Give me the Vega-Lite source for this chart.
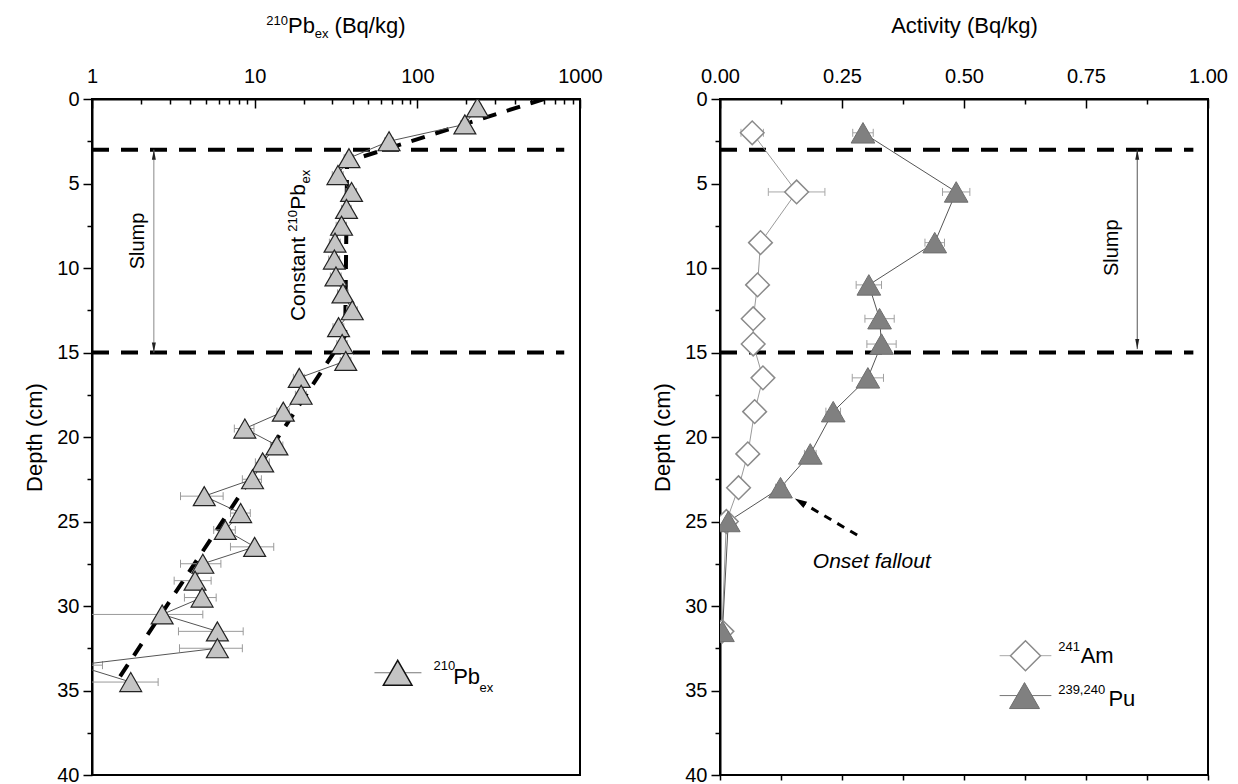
{
  "$schema": "https://vega.github.io/schema/vega-lite/v6.json",
  "padding": {"left": 22, "top": 13, "right": 0, "bottom": 0},
  "background": "white",
  "config": {
    "font": "Liberation Sans",
    "view": {"stroke": "black", "strokeWidth": 2},
    "axis": {"grid": false, "domainColor": "black", "domainWidth": 2, "tickColor": "black", "tickWidth": 1.5, "labelFontSize": 20, "titleFontSize": 22, "titleFontWeight": "normal", "labelColor": "black", "titleColor": "black", "labelFlush": false, "labelOverlap": false}
  },
  "datasets": {
    "pb": [
      {"d": 0.5, "x": 234, "lo": 222, "hi": 246},
      {"d": 1.5, "x": 196, "lo": 184, "hi": 208},
      {"d": 2.5, "x": 67, "lo": 63, "hi": 71},
      {"d": 3.5, "x": 38, "lo": 35.5, "hi": 40.5},
      {"d": 4.5, "x": 32.5, "lo": 30, "hi": 35},
      {"d": 5.5, "x": 39.4, "lo": 36.5, "hi": 42.3},
      {"d": 6.5, "x": 36.7, "lo": 34.2, "hi": 39.2},
      {"d": 7.5, "x": 34.2, "lo": 31.7, "hi": 36.7},
      {"d": 8.5, "x": 31.2, "lo": 28.8, "hi": 33.6},
      {"d": 9.5, "x": 30.9, "lo": 28.5, "hi": 33.3},
      {"d": 10.5, "x": 31.6, "lo": 29.2, "hi": 34},
      {"d": 11.5, "x": 34.9, "lo": 32.3, "hi": 37.5},
      {"d": 12.5, "x": 39.8, "lo": 36.8, "hi": 42.8},
      {"d": 13.5, "x": 32.8, "lo": 30.3, "hi": 35.3},
      {"d": 14.5, "x": 34.5, "lo": 32, "hi": 37},
      {"d": 15.5, "x": 36.3, "lo": 33.6, "hi": 39},
      {"d": 16.5, "x": 18.8, "lo": 17.3, "hi": 20.3},
      {"d": 17.5, "x": 19.3, "lo": 17.8, "hi": 20.8},
      {"d": 18.5, "x": 15.0, "lo": 13.7, "hi": 16.3},
      {"d": 19.5, "x": 8.7, "lo": 7.5, "hi": 9.9},
      {"d": 20.5, "x": 13.7, "lo": 12.5, "hi": 14.9},
      {"d": 21.5, "x": 11.2, "lo": 10.1, "hi": 12.3},
      {"d": 22.5, "x": 9.7, "lo": 8.4, "hi": 11},
      {"d": 23.5, "x": 4.9, "lo": 3.5, "hi": 6.4},
      {"d": 24.5, "x": 8.2, "lo": 7.1, "hi": 9.4},
      {"d": 25.5, "x": 6.6, "lo": 5.6, "hi": 7.6},
      {"d": 26.5, "x": 10, "lo": 7.1, "hi": 13.1},
      {"d": 27.5, "x": 4.8, "lo": 3.5, "hi": 6.2},
      {"d": 28.5, "x": 4.3, "lo": 3.2, "hi": 5.4},
      {"d": 29.5, "x": 4.75, "lo": 3.7, "hi": 5.8},
      {"d": 30.5, "x": 2.7, "lo": 0.6, "hi": 4.8},
      {"d": 31.5, "x": 5.9, "lo": 3.4, "hi": 8.5},
      {"d": 32.5, "x": 5.9, "lo": 3.45, "hi": 8.4},
      {"d": 33.5, "x": 0.8, "lo": 0.45, "hi": 1.16},
      {"d": 34.5, "x": 1.73, "lo": 0.9, "hi": 2.55}
    ],
    "fit": [
      {"d": 0, "x": 600},
      {"d": 3.7, "x": 37},
      {"d": 14, "x": 36},
      {"d": 34.6, "x": 1.39}
    ],
    "am": [
      {"d": 2, "x": 0.066, "lo": 0.043, "hi": 0.089},
      {"d": 5.5, "x": 0.157, "lo": 0.099, "hi": 0.215},
      {"d": 8.5, "x": 0.083, "lo": 0.073, "hi": 0.093},
      {"d": 11, "x": 0.077, "lo": 0.067, "hi": 0.087},
      {"d": 13, "x": 0.068, "lo": 0.058, "hi": 0.078},
      {"d": 14.5, "x": 0.068, "lo": 0.058, "hi": 0.078},
      {"d": 16.5, "x": 0.088, "lo": 0.078, "hi": 0.098},
      {"d": 18.5, "x": 0.071, "lo": 0.061, "hi": 0.081},
      {"d": 21, "x": 0.057, "lo": 0.047, "hi": 0.067},
      {"d": 23, "x": 0.038, "lo": 0.028, "hi": 0.048},
      {"d": 25, "x": 0.013, "lo": 0.008, "hi": 0.018},
      {"d": 31.5, "x": 0.004, "lo": 0.001, "hi": 0.007}
    ],
    "pu": [
      {"d": 2, "x": 0.293, "lo": 0.272, "hi": 0.314},
      {"d": 5.5, "x": 0.484, "lo": 0.456, "hi": 0.512},
      {"d": 8.5, "x": 0.44, "lo": 0.42, "hi": 0.46},
      {"d": 11, "x": 0.305, "lo": 0.279, "hi": 0.331},
      {"d": 13, "x": 0.327, "lo": 0.297, "hi": 0.357},
      {"d": 14.5, "x": 0.331, "lo": 0.301, "hi": 0.361},
      {"d": 16.5, "x": 0.303, "lo": 0.271, "hi": 0.335},
      {"d": 18.5, "x": 0.232, "lo": 0.217, "hi": 0.247},
      {"d": 21, "x": 0.185, "lo": 0.173, "hi": 0.197},
      {"d": 23, "x": 0.124, "lo": 0.114, "hi": 0.134},
      {"d": 25, "x": 0.017, "lo": 0.012, "hi": 0.022},
      {"d": 31.5, "x": 0.005, "lo": 0.0, "hi": 0.01}
    ]
  },
  "spacing": 46,
  "hconcat": [
    {
      "width": 488,
      "height": 676,
      "layer": [
        {
          "data": {"values": [{"d": 3, "x": 1, "x2": 800}, {"d": 15, "x": 1, "x2": 800}]},
          "mark": {"type": "rule", "color": "black", "strokeWidth": 4, "strokeDash": [17, 12]},
          "encoding": {
            "y": {"field": "d", "type": "quantitative", "scale": {"domain": [0, 40], "reverse": true, "nice": false, "zero": false},
              "axis": {"orient": "left", "title": "Depth (cm)", "values": [0, 2.5, 5, 7.5, 10, 12.5, 15, 17.5, 20, 22.5, 25, 27.5, 30, 32.5, 35, 37.5, 40],
                "labelExpr": "datum.value % 5 === 0 ? datum.label : ''",
                "tickSize": {"condition": {"test": "datum.value % 5 === 0", "value": 9}, "value": 5},
                "labelPadding": 4, "titlePadding": 10}},
            "x": {"field": "x", "type": "quantitative", "scale": {"type": "log", "domain": [1, 1000], "nice": false},
              "axis": {"orient": "top", "title": null, "format": "d",
                "values": [1, 2, 3, 4, 5, 6, 7, 8, 9, 10, 20, 30, 40, 50, 60, 70, 80, 90, 100, 200, 300, 400, 500, 600, 700, 800, 900, 1000],
                "labelExpr": "(datum.value === 1 || datum.value === 10 || datum.value === 100 || datum.value === 1000) ? datum.label : ''",
                "tickSize": {"condition": {"test": "datum.value === 1 || datum.value === 10 || datum.value === 100 || datum.value === 1000", "value": -9}, "value": -5},
                "labelPadding": 22}},
            "x2": {"field": "x2"}
          }
        },
        {
          "data": {"name": "fit"},
          "mark": {"type": "line", "color": "black", "strokeWidth": 4, "strokeDash": [14, 11], "clip": true},
          "encoding": {
            "x": {"field": "x", "type": "quantitative"},
            "y": {"field": "d", "type": "quantitative"},
            "order": {"field": "d", "type": "quantitative"}
          }
        },
        {
          "data": {"name": "pb"},
          "mark": {"type": "rule", "color": "#9a9a9a", "strokeWidth": 1, "clip": true},
          "encoding": {
            "x": {"field": "lo", "type": "quantitative"},
            "x2": {"field": "hi"},
            "y": {"field": "d", "type": "quantitative"}
          }
        },
        {
          "data": {"name": "pb"},
          "transform": [{"fold": ["lo", "hi"], "as": ["k", "cx"]}],
          "mark": {"type": "point", "shape": "M0,-1L0,1", "size": 64, "filled": false, "stroke": "#9a9a9a", "strokeWidth": 1, "opacity": 1, "clip": true},
          "encoding": {
            "x": {"field": "cx", "type": "quantitative"},
            "y": {"field": "d", "type": "quantitative"}
          }
        },
        {
          "data": {"name": "pb"},
          "mark": {"type": "line", "color": "#555555", "strokeWidth": 1, "clip": true},
          "encoding": {
            "x": {"field": "x", "type": "quantitative"},
            "y": {"field": "d", "type": "quantitative"},
            "order": {"field": "d", "type": "quantitative"}
          }
        },
        {
          "data": {"name": "pb"},
          "mark": {"type": "point", "shape": "triangle-up", "size": 480, "filled": true, "fill": "#c4c4c4", "stroke": "#222222", "strokeWidth": 1.2, "opacity": 1, "clip": true},
          "encoding": {
            "x": {"field": "x", "type": "quantitative"},
            "y": {"field": "d", "type": "quantitative"}
          }
        },
        {
          "data": {"values": [{"x": 2.4, "d": 3, "d2": 15}]},
          "mark": {"type": "rule", "color": "#888888", "strokeWidth": 1},
          "encoding": {
            "x": {"field": "x", "type": "quantitative"},
            "y": {"field": "d", "type": "quantitative"},
            "y2": {"field": "d2"}
          }
        },
        {
          "data": {"values": [{"x": 2.4, "d": 3.3, "a": 0}, {"x": 2.4, "d": 14.7, "a": 180}]},
          "mark": {"type": "point", "shape": "M0,-1L-0.4,1L0.4,1Z", "size": 100, "filled": true, "color": "#222222", "opacity": 1},
          "encoding": {
            "x": {"field": "x", "type": "quantitative"},
            "y": {"field": "d", "type": "quantitative"},
            "angle": {"field": "a", "type": "quantitative", "scale": null}
          }
        },
        {
          "data": {"values": [{"x": 1.91, "d": 8.4, "t": "Slump"}]},
          "mark": {"type": "text", "angle": 270, "fontSize": 20, "align": "center", "baseline": "middle", "color": "black"},
          "encoding": {
            "x": {"field": "x", "type": "quantitative"},
            "y": {"field": "d", "type": "quantitative"},
            "text": {"field": "t"}
          }
        },
        {
          "data": {"values": [{"x": 20.3, "d": 13.14, "t": "Constant"}, {"x": 20.3, "d": 6.55, "t": "Pb"}]},
          "mark": {"type": "text", "angle": 270, "fontSize": 21, "align": "left", "baseline": "alphabetic", "color": "black"},
          "encoding": {
            "x": {"field": "x", "type": "quantitative"},
            "y": {"field": "d", "type": "quantitative"},
            "text": {"field": "t"}
          }
        },
        {
          "data": {"values": [{"x": 18.2, "d": 7.85, "t": "210"}, {"x": 21.8, "d": 5.0, "t": "ex"}]},
          "mark": {"type": "text", "angle": 270, "fontSize": 13, "align": "left", "baseline": "alphabetic", "color": "black"},
          "encoding": {
            "x": {"field": "x", "type": "quantitative"},
            "y": {"field": "d", "type": "quantitative"},
            "text": {"field": "t"}
          }
        },
        {
          "data": {"values": [{"x": 16.02, "d": -3.9, "t": "Pb"}, {"x": 31.0, "d": -3.9, "t": "(Bq/kg)"}]},
          "mark": {"type": "text", "fontSize": 22, "align": "left", "baseline": "alphabetic", "color": "black"},
          "encoding": {
            "x": {"field": "x", "type": "quantitative"},
            "y": {"field": "d", "type": "quantitative"},
            "text": {"field": "t"}
          }
        },
        {
          "data": {"values": [{"x": 11.79, "d": -4.37, "t": "210"}, {"x": 23.44, "d": -3.6, "t": "ex"}]},
          "mark": {"type": "text", "fontSize": 13, "align": "left", "baseline": "alphabetic", "color": "black"},
          "encoding": {
            "x": {"field": "x", "type": "quantitative"},
            "y": {"field": "d", "type": "quantitative"},
            "text": {"field": "t"}
          }
        },
        {
          "data": {"values": [{"x": 54.5, "x2": 106, "d": 33.95}]},
          "mark": {"type": "rule", "color": "#777777", "strokeWidth": 1},
          "encoding": {
            "x": {"field": "x", "type": "quantitative"},
            "x2": {"field": "x2"},
            "y": {"field": "d", "type": "quantitative"}
          }
        },
        {
          "data": {"values": [{"x": 75.7, "d": 33.95}]},
          "mark": {"type": "point", "shape": "triangle-up", "size": 820, "filled": true, "fill": "#c4c4c4", "stroke": "#111111", "strokeWidth": 1.5, "opacity": 1},
          "encoding": {
            "x": {"field": "x", "type": "quantitative"},
            "y": {"field": "d", "type": "quantitative"}
          }
        },
        {
          "data": {"values": [{"x": 125.6, "d": 33.79, "t": "210"}, {"x": 241, "d": 35.07, "t": "ex"}]},
          "mark": {"type": "text", "fontSize": 13, "align": "left", "baseline": "alphabetic", "color": "black"},
          "encoding": {
            "x": {"field": "x", "type": "quantitative"},
            "y": {"field": "d", "type": "quantitative"},
            "text": {"field": "t"}
          }
        },
        {
          "data": {"values": [{"x": 166, "d": 34.62, "t": "Pb"}]},
          "mark": {"type": "text", "fontSize": 22, "align": "left", "baseline": "alphabetic", "color": "black"},
          "encoding": {
            "x": {"field": "x", "type": "quantitative"},
            "y": {"field": "d", "type": "quantitative"},
            "text": {"field": "t"}
          }
        }
      ]
    },
    {
      "width": 488,
      "height": 676,
      "resolve": {"axis": {"x": "independent"}},
      "layer": [
        {
          "layer": [
            {
              "data": {"values": [{"d": 3, "x": 0, "x2": 0.97}, {"d": 15, "x": 0, "x2": 0.97}]},
              "mark": {"type": "rule", "color": "black", "strokeWidth": 4, "strokeDash": [17, 12]},
              "encoding": {
                "y": {"field": "d", "type": "quantitative", "scale": {"domain": [0, 40], "reverse": true, "nice": false, "zero": false},
                  "axis": {"orient": "left", "title": "Depth (cm)", "values": [0, 2.5, 5, 7.5, 10, 12.5, 15, 17.5, 20, 22.5, 25, 27.5, 30, 32.5, 35, 37.5, 40],
                    "labelExpr": "datum.value % 5 === 0 ? datum.label : ''",
                    "tickSize": {"condition": {"test": "datum.value % 5 === 0", "value": 9}, "value": 5},
                    "labelPadding": 4, "titlePadding": 10}},
                "x": {"field": "x", "type": "quantitative", "scale": {"domain": [0, 1], "nice": false, "zero": false},
                  "axis": {"orient": "top", "title": "Activity (Bq/kg)", "format": ".2f",
                    "values": [0, 0.125, 0.25, 0.375, 0.5, 0.625, 0.75, 0.875, 1],
                    "labelExpr": "round(datum.value * 8) % 2 === 0 ? datum.label : ''",
                    "tickSize": {"condition": {"test": "round(datum.value * 8) % 2 === 0", "value": -9}, "value": -5},
                    "labelPadding": 22, "titlePadding": 25}},
                "x2": {"field": "x2"}
              }
            },
            {
              "data": {"name": "am"},
              "mark": {"type": "rule", "color": "#a8a8a8", "strokeWidth": 1, "clip": true},
              "encoding": {
                "x": {"field": "lo", "type": "quantitative"},
                "x2": {"field": "hi"},
                "y": {"field": "d", "type": "quantitative"}
              }
            },
            {
              "data": {"name": "am"},
              "transform": [{"fold": ["lo", "hi"], "as": ["k", "cx"]}],
              "mark": {"type": "point", "shape": "M0,-1L0,1", "size": 64, "filled": false, "stroke": "#a8a8a8", "strokeWidth": 1, "opacity": 1, "clip": true},
              "encoding": {
                "x": {"field": "cx", "type": "quantitative"},
                "y": {"field": "d", "type": "quantitative"}
              }
            },
            {
              "data": {"name": "pu"},
              "mark": {"type": "rule", "color": "#a0a0a0", "strokeWidth": 1, "clip": true},
              "encoding": {
                "x": {"field": "lo", "type": "quantitative"},
                "x2": {"field": "hi"},
                "y": {"field": "d", "type": "quantitative"}
              }
            },
            {
              "data": {"name": "pu"},
              "transform": [{"fold": ["lo", "hi"], "as": ["k", "cx"]}],
              "mark": {"type": "point", "shape": "M0,-1L0,1", "size": 64, "filled": false, "stroke": "#a0a0a0", "strokeWidth": 1, "opacity": 1, "clip": true},
              "encoding": {
                "x": {"field": "cx", "type": "quantitative"},
                "y": {"field": "d", "type": "quantitative"}
              }
            },
            {
              "data": {"name": "am"},
              "mark": {"type": "line", "color": "#9a9a9a", "strokeWidth": 1, "clip": true},
              "encoding": {
                "x": {"field": "x", "type": "quantitative"},
                "y": {"field": "d", "type": "quantitative"},
                "order": {"field": "d", "type": "quantitative"}
              }
            },
            {
              "data": {"name": "pu"},
              "mark": {"type": "line", "color": "#555555", "strokeWidth": 1, "clip": true},
              "encoding": {
                "x": {"field": "x", "type": "quantitative"},
                "y": {"field": "d", "type": "quantitative"},
                "order": {"field": "d", "type": "quantitative"}
              }
            },
            {
              "data": {"name": "am"},
              "mark": {"type": "point", "shape": "diamond", "size": 560, "filled": true, "fill": "white", "stroke": "#8a8a8a", "strokeWidth": 1.5, "opacity": 1, "clip": true},
              "encoding": {
                "x": {"field": "x", "type": "quantitative"},
                "y": {"field": "d", "type": "quantitative"}
              }
            },
            {
              "data": {"name": "pu"},
              "mark": {"type": "point", "shape": "triangle-up", "size": 560, "filled": true, "fill": "#808080", "stroke": "#6e6e6e", "strokeWidth": 1, "opacity": 1, "clip": true},
              "encoding": {
                "x": {"field": "x", "type": "quantitative"},
                "y": {"field": "d", "type": "quantitative"}
              }
            },
            {
              "data": {"values": [{"x": 0.855, "d": 3, "d2": 14.8}]},
              "mark": {"type": "rule", "color": "#555555", "strokeWidth": 1},
              "encoding": {
                "x": {"field": "x", "type": "quantitative"},
                "y": {"field": "d", "type": "quantitative"},
                "y2": {"field": "d2"}
              }
            },
            {
              "data": {"values": [{"x": 0.855, "d": 3.3, "a": 0}, {"x": 0.855, "d": 14.5, "a": 180}]},
              "mark": {"type": "point", "shape": "M0,-1L-0.4,1L0.4,1Z", "size": 100, "filled": true, "color": "#222222", "opacity": 1},
              "encoding": {
                "x": {"field": "x", "type": "quantitative"},
                "y": {"field": "d", "type": "quantitative"},
                "angle": {"field": "a", "type": "quantitative", "scale": null}
              }
            },
            {
              "data": {"values": [{"x": 0.803, "d": 8.8, "t": "Slump"}]},
              "mark": {"type": "text", "angle": 270, "fontSize": 20, "align": "center", "baseline": "middle", "color": "black"},
              "encoding": {
                "x": {"field": "x", "type": "quantitative"},
                "y": {"field": "d", "type": "quantitative"},
                "text": {"field": "t"}
              }
            },
            {
              "data": {"values": [{"x": 0.281, "d": 25.8, "x2": 0.172, "d2": 23.95}]},
              "mark": {"type": "rule", "color": "black", "strokeWidth": 3, "strokeDash": [8, 7]},
              "encoding": {
                "x": {"field": "x", "type": "quantitative"},
                "y": {"field": "d", "type": "quantitative"},
                "x2": {"field": "x2"},
                "y2": {"field": "d2"}
              }
            },
            {
              "data": {"values": [{"x": 0.164, "d": 23.83, "a": -59}]},
              "mark": {"type": "point", "shape": "M0,-1L-0.6,1L0.6,1Z", "size": 150, "filled": true, "color": "black", "opacity": 1},
              "encoding": {
                "x": {"field": "x", "type": "quantitative"},
                "y": {"field": "d", "type": "quantitative"},
                "angle": {"field": "a", "type": "quantitative", "scale": null}
              }
            },
            {
              "data": {"values": [{"x": 0.311, "d": 27.4, "t": "Onset fallout"}]},
              "mark": {"type": "text", "fontSize": 21, "fontStyle": "italic", "align": "center", "baseline": "middle", "color": "black"},
              "encoding": {
                "x": {"field": "x", "type": "quantitative"},
                "y": {"field": "d", "type": "quantitative"},
                "text": {"field": "t"}
              }
            },
            {
              "data": {"values": [{"x": 0.573, "x2": 0.679, "d": 32.94, "c": "a"}, {"x": 0.573, "x2": 0.679, "d": 35.3, "c": "p"}]},
              "mark": {"type": "rule", "strokeWidth": 1},
              "encoding": {
                "x": {"field": "x", "type": "quantitative"},
                "x2": {"field": "x2"},
                "y": {"field": "d", "type": "quantitative"},
                "color": {"field": "c", "type": "nominal", "scale": {"domain": ["a", "p"], "range": ["#a8a8a8", "#777777"]}, "legend": null}
              }
            },
            {
              "data": {"values": [{"x": 0.626, "d": 32.94}]},
              "mark": {"type": "point", "shape": "diamond", "size": 900, "filled": true, "fill": "white", "stroke": "#8a8a8a", "strokeWidth": 1.5, "opacity": 1},
              "encoding": {
                "x": {"field": "x", "type": "quantitative"},
                "y": {"field": "d", "type": "quantitative"}
              }
            },
            {
              "data": {"values": [{"x": 0.624, "d": 35.3}]},
              "mark": {"type": "point", "shape": "triangle-up", "size": 900, "filled": true, "fill": "#808080", "stroke": "#6e6e6e", "strokeWidth": 1, "opacity": 1},
              "encoding": {
                "x": {"field": "x", "type": "quantitative"},
                "y": {"field": "d", "type": "quantitative"}
              }
            },
            {
              "data": {"values": [{"x": 0.693, "d": 32.66, "t": "241"}, {"x": 0.693, "d": 35.23, "t": "239,240"}]},
              "mark": {"type": "text", "fontSize": 13, "align": "left", "baseline": "alphabetic", "color": "black"},
              "encoding": {
                "x": {"field": "x", "type": "quantitative"},
                "y": {"field": "d", "type": "quantitative"},
                "text": {"field": "t"}
              }
            },
            {
              "data": {"values": [{"x": 0.739, "d": 33.37, "t": "Am"}, {"x": 0.796, "d": 35.94, "t": "Pu"}]},
              "mark": {"type": "text", "fontSize": 22, "align": "left", "baseline": "alphabetic", "color": "black"},
              "encoding": {
                "x": {"field": "x", "type": "quantitative"},
                "y": {"field": "d", "type": "quantitative"},
                "text": {"field": "t"}
              }
            }
          ]
        },
        {
          "data": {"values": [{"x": 0, "d": 0}]},
          "mark": {"type": "point", "opacity": 0},
          "encoding": {
            "x": {"field": "x", "type": "quantitative",
              "axis": {"orient": "bottom", "title": null, "labels": false, "domain": false, "tickSize": 5,
                "values": [0, 0.125, 0.25, 0.375, 0.5, 0.625, 0.75, 0.875, 1]}},
            "y": {"field": "d", "type": "quantitative"}
          }
        }
      ]
    }
  ]
}
